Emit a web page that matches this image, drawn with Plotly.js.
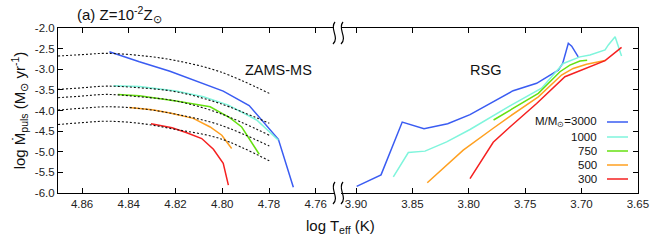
<!DOCTYPE html>
<html>
<head>
<meta charset="utf-8">
<script src="https://cdn.plot.ly/plotly-3.0.1.min.js"></script>
<style>html,body{margin:0;padding:0;background:#fff;}#chart{width:650px;height:241px;}</style>
</head>
<body>
<div id="chart"></div>
<script>
// ---------- DATA ----------
const massLabels = ['3000', '1000', '750', '500', '300'];

// ZAMS-MS phase (left panel): log Teff, log Mdot
const ms3000X = [4.8483, 4.8355, 4.8224, 4.7996, 4.7885, 4.7760, 4.7696];
const ms3000Y = [-2.575, -2.82, -3.05, -3.53, -3.88, -4.70, -5.86];
const ms1000X = [4.8466, 4.8355, 4.8198, 4.8081, 4.7974, 4.7853, 4.7760];
const ms1000Y = [-3.40, -3.42, -3.53, -3.667, -3.87, -4.23, -4.72];
const ms750X = [4.8447, 4.8355, 4.8198, 4.8052, 4.7967, 4.7917, 4.7842];
const ms750Y = [-3.61, -3.64, -3.77, -3.91, -4.18, -4.40, -5.06];
const ms500X = [4.8398, 4.8300, 4.8224, 4.8124, 4.8052, 4.8002, 4.7960];
const ms500Y = [-3.925, -3.98, -4.06, -4.19, -4.40, -4.60, -4.92];
const ms300X = [4.8305, 4.8215, 4.8152, 4.8088, 4.8038, 4.7996, 4.7974];
const ms300Y = [-4.32, -4.42, -4.54, -4.68, -4.94, -5.28, -5.81];

// dotted reference curves (left panel)
const zamsX = [4.8703, 4.8600, 4.8497, 4.8355, 4.8198, 4.8010, 4.7799];
const zams1Y = [-2.68, -2.645, -2.615, -2.665, -2.79, -3.06, -3.585];
const zams2Y = [-3.488, -3.45, -3.41, -3.449, -3.546, -3.83, -4.31];
const zams3Y = [-3.69, -3.65, -3.61, -3.667, -3.77, -4.07, -4.60];
const zams4Y = [-3.99, -3.945, -3.91, -3.95, -4.09, -4.35, -4.86];
const zams5Y = [-4.34, -4.295, -4.26, -4.31, -4.46, -4.68, -5.22];

// RSG phase (right panel)
const rsg3000X = [3.8994, 3.8778, 3.8590, 3.8397, 3.8187, 3.7989, 3.7606, 3.7398, 3.7206, 3.7167, 3.7117, 3.7087, 3.7029];
const rsg3000Y = [-5.84, -5.56, -4.28, -4.44, -4.32, -4.10, -3.52, -3.34, -3.02, -2.86, -2.37, -2.44, -2.70];
const rsg1000X = [3.8669, 3.8536, 3.8388, 3.8196, 3.7989, 3.7635, 3.7354, 3.7162, 3.7014, 3.6925, 3.6791, 3.6762, 3.6702, 3.6645];
const rsg1000Y = [-5.61, -5.02, -4.985, -4.76, -4.46, -3.89, -3.46, -2.86, -2.70, -2.655, -2.53, -2.41, -2.21, -2.68];
const rsg750X = [3.7780, 3.7635, 3.7383, 3.7191, 3.7103, 3.7014, 3.6950];
const rsg750Y = [-4.23, -3.99, -3.585, -3.06, -2.90, -2.80, -2.78];
const rsg500X = [3.8368, 3.8049, 3.7783, 3.7635, 3.7383, 3.7177, 3.7074, 3.6955, 3.6791];
const rsg500Y = [-5.75, -4.96, -4.43, -4.14, -3.67, -3.14, -2.98, -2.88, -2.79];
const rsg300X = [3.7989, 3.7783, 3.7635, 3.7398, 3.7147, 3.6925, 3.6791, 3.6645];
const rsg300Y = [-5.65, -4.77, -4.40, -3.83, -3.18, -2.94, -2.79, -2.47];

// ticks
const leftTickVals = [4.86, 4.84, 4.82, 4.80, 4.78, 4.76];
const leftTickText = ['4.86', '4.84', '4.82', '4.80', '4.78', '4.76'];
const rightTickVals = [3.90, 3.85, 3.80, 3.75, 3.70, 3.65];
const rightTickText = ['3.90', '3.85', '3.80', '3.75', '3.70', '3.65'];
const yTickVals = [-2.0, -2.5, -3.0, -3.5, -4.0, -4.5, -5.0, -5.5, -6.0];
const yTickText = ['-2.0', '-2.5', '-3.0', '-3.5', '-4.0', '-4.5', '-5.0', '-5.5', '-6.0'];

// ---------- STYLE / LAYOUT ----------
const colors = ['#3a5cf2', '#7ff5dc', '#66e010', '#ffa020', '#f52020'];
const W = 650, H = 241, L = 58, R = 12, T = 28, B = 48;
const pw = W - L - R, ph = H - T - B;
const px = x => (x - L) / pw;        // pixel -> paper x
const py = y => (H - B - y) / ph;    // pixel -> paper y
const FONT = 'Liberation Sans, Arial, Helvetica, sans-serif';

const msX = [ms3000X, ms1000X, ms750X, ms500X, ms300X];
const msY = [ms3000Y, ms1000Y, ms750Y, ms500Y, ms300Y];
const rsgX = [rsg3000X, rsg1000X, rsg750X, rsg500X, rsg300X];
const rsgY = [rsg3000Y, rsg1000Y, rsg750Y, rsg500Y, rsg300Y];
const zamsYs = [zams1Y, zams2Y, zams3Y, zams4Y, zams5Y];

const traces = [];
for (let i = 0; i < 5; i++) {
  traces.push({x: msX[i], y: msY[i], xaxis: 'x', yaxis: 'y', mode: 'lines',
    line: {color: colors[i], width: 1.5}, name: massLabels[i], hoverinfo: 'x+y'});
}
for (let i = 0; i < 5; i++) {
  traces.push({x: zamsX, y: zamsYs[i], xaxis: 'x', yaxis: 'y', mode: 'lines',
    line: {color: '#111', width: 1.1, dash: '2px,2px', shape: 'spline'}, hoverinfo: 'x+y'});
}
for (let i = 0; i < 5; i++) {
  traces.push({x: rsgX[i], y: rsgY[i], xaxis: 'x2', yaxis: 'y2', mode: 'lines',
    line: {color: colors[i], width: 1.5}, name: massLabels[i], hoverinfo: 'x+y'});
}

const axFont = {family: FONT, size: 11.5, color: '#222'};
const commonAx = {showgrid: false, zeroline: false, showline: true, linecolor: '#000', linewidth: 1,
  ticks: 'inside', ticklen: 5, tickwidth: 1, tickcolor: '#000', tickfont: axFont};

// break marks
function breakPath(x0, yTop) {
  return 'M' + px(x0) + ',' + py(yTop) +
    ' C' + px(x0 - 6) + ',' + py(yTop + 7) + ' ' + px(x0 + 5) + ',' + py(yTop + 15) + ' ' + px(x0 - 2) + ',' + py(yTop + 22);
}
const shapes = [];
[[335, 22], [343, 22], [335, 182], [343, 182]].forEach(p => {
  shapes.push({type: 'path', xref: 'paper', yref: 'paper', path: breakPath(p[0], p[1]),
    line: {color: '#000', width: 1.2}});
});

// legend (text left of sample line, gnuplot style)
const legRows = [122, 137, 151, 165, 179];
const annotations = [
  {xref: 'paper', yref: 'paper', x: px(278), y: py(70), text: 'ZAMS-MS', showarrow: false,
    font: {family: FONT, size: 14.5, color: '#111'}, xanchor: 'center', yanchor: 'middle'},
  {xref: 'paper', yref: 'paper', x: px(485), y: py(70), text: 'RSG', showarrow: false,
    font: {family: FONT, size: 14.5, color: '#111'}, xanchor: 'center', yanchor: 'middle'},
  {xref: 'paper', yref: 'paper', x: px(340), y: py(226), text: 'log T<sub>eff</sub> (K)', showarrow: false,
    font: {family: FONT, size: 15, color: '#111'}, xanchor: 'center', yanchor: 'middle'}
];
for (let i = 0; i < 5; i++) {
  annotations.push({xref: 'paper', yref: 'paper', x: px(599), y: py(legRows[i]),
    text: (i === 0 ? 'M/M<sub>⊙</sub>=' : '') + massLabels[i], showarrow: false,
    font: {family: FONT, size: 11.5, color: '#111'}, xanchor: 'right', yanchor: 'middle'});
  shapes.push({type: 'line', xref: 'paper', yref: 'paper', x0: px(607), x1: px(628),
    y0: py(legRows[i]), y1: py(legRows[i]), line: {color: colors[i], width: 1.5}});
}

const layout = {
  width: W, height: H,
  margin: {l: L, r: R, t: T, b: B, pad: 0},
  paper_bgcolor: '#fff', plot_bgcolor: '#fff',
  showlegend: false,
  font: {family: FONT, color: '#111'},
  title: {text: '(a) Z=10<sup>-2</sup>Z<sub>⊙</sub>', font: {family: FONT, size: 15, color: '#111'},
    xref: 'container', yref: 'container', x: 77 / W, xanchor: 'left', y: 1 - 15 / H, yanchor: 'middle'},
  xaxis: Object.assign({}, commonAx, {domain: [0, px(334)], range: [4.8703, 4.7522], anchor: 'y',
    mirror: 'ticks', tickmode: 'array', tickvals: leftTickVals, ticktext: leftTickText}),
  xaxis2: Object.assign({}, commonAx, {domain: [px(341), 1], range: [3.9133, 3.6499], anchor: 'y2',
    mirror: 'ticks', tickmode: 'array', tickvals: rightTickVals, ticktext: rightTickText}),
  yaxis: Object.assign({}, commonAx, {domain: [0, 1], range: [-6, -2], anchor: 'x', side: 'left',
    tickmode: 'array', tickvals: yTickVals, ticktext: yTickText,
    title: {text: 'log Ṁ<sub>puls</sub> (M<sub>⊙</sub> yr<sup>-1</sup>)', font: {family: FONT, size: 15, color: '#111'}, standoff: 5},
    automargin: false}),
  yaxis2: Object.assign({}, commonAx, {domain: [0, 1], range: [-6, -2], anchor: 'x2', side: 'right',
    tickmode: 'array', tickvals: yTickVals, showticklabels: false, matches: 'y'}),
  shapes: shapes,
  annotations: annotations
};

Plotly.newPlot('chart', traces, layout, {staticPlot: true, displayModeBar: false});
</script>
</body>
</html>
